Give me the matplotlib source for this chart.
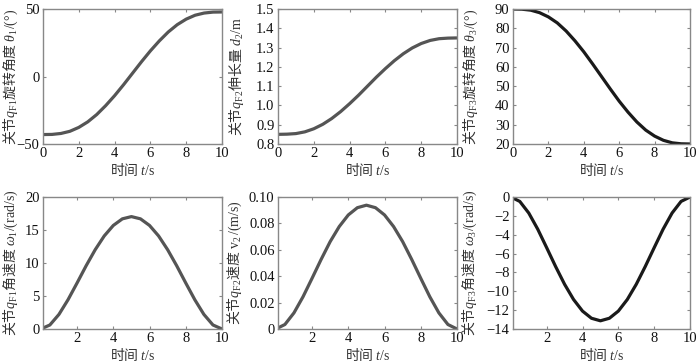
import matplotlib
matplotlib.use("Agg")
import matplotlib.pyplot as plt

plt.rcParams['font.family'] = ['Liberation Serif', 'Noto Sans CJK SC']
plt.rcParams['mathtext.fontset'] = 'custom'
plt.rcParams['mathtext.rm'] = 'Liberation Serif'
plt.rcParams['mathtext.it'] = 'Liberation Serif:italic'
plt.rcParams['mathtext.sf'] = 'Liberation Serif'
plt.rcParams['axes.unicode_minus'] = True

# time samples (s)
t = [0.0, 0.5, 1.0, 1.5, 2.0, 2.5, 3.0, 3.5, 4.0, 4.5, 5.0,
     5.5, 6.0, 6.5, 7.0, 7.5, 8.0, 8.5, 9.0, 9.5, 10.0]

# joint positions
theta1 = [-43.0, -42.9, -42.2, -40.6, -37.7, -33.6, -28.2, -21.6, -14.2, -6.1, 2.4,
          10.9, 19.0, 26.4, 33.0, 38.4, 42.5, 45.4, 47.0, 47.7, 47.8]
d2 = [0.850, 0.851, 0.854, 0.863, 0.879, 0.902, 0.932, 0.968, 1.009, 1.053, 1.100,
      1.147, 1.191, 1.232, 1.268, 1.298, 1.321, 1.337, 1.346, 1.349, 1.350]
theta3 = [90.0, 89.9, 89.4, 88.1, 85.9, 82.8, 78.6, 73.5, 67.8, 61.5, 55.0,
          48.5, 42.2, 36.5, 31.4, 27.2, 24.1, 21.9, 20.6, 20.1, 20.0]

# joint velocities
omega1 = [0.0, 0.61, 2.21, 4.43, 6.97, 9.58, 12.01, 14.10, 15.69, 16.69, 17.03,
          16.69, 15.69, 14.10, 12.01, 9.58, 6.97, 4.43, 2.21, 0.61, 0.0]
v2 = [0.0, 0.0034, 0.0122, 0.0244, 0.0384, 0.0527, 0.0662, 0.0776, 0.0864, 0.0919, 0.0938,
      0.0919, 0.0864, 0.0776, 0.0662, 0.0527, 0.0384, 0.0244, 0.0122, 0.0034, 0.0]
omega3 = [0.0, -0.47, -1.70, -3.41, -5.38, -7.38, -9.26, -10.87, -12.10, -12.86, -13.13,
          -12.86, -12.10, -10.87, -9.26, -7.38, -5.38, -3.41, -1.70, -0.47, 0.0]

ylabels = [
    r'关节$q_{\mathrm{F1}}$旋转角度 $\theta_1\mathrm{/(°)}$',
    r'关节$q_{\mathrm{F2}}$伸长量 $d_2\mathrm{/m}$',
    r'关节$q_{\mathrm{F3}}$旋转角度 $\theta_3\mathrm{/(°)}$',
    r'关节$q_{\mathrm{F1}}$角速度 $\omega_1\mathrm{/(rad/s)}$',
    r'关节$q_{\mathrm{F2}}$速度 $\mathrm{v}_2\mathrm{\,/(m/s)}$',
    r'关节$q_{\mathrm{F3}}$角速度 $\omega_3\mathrm{/(rad/s)}$',
]
xlabel = r'时间 $t\mathrm{/s}$'

fig = plt.figure(figsize=(7.0, 3.62), dpi=100)
W, H = 700.0, 362.0
cols = [(43, 222), (278, 457), (513, 690)]
rows = [(9, 144), (197, 329)]
ylabel_right = [20, 246, 480, 20, 244, 479]
xlabel_top = [161, 346]

series = [theta1, d2, theta3, omega1, v2, omega3]
colors = ['#555555', '#555555', '#1a1a1a', '#555555', '#555555', '#1a1a1a']
ylims = [(-50, 50), (0.8, 1.5), (20, 90), (0, 20), (0, 0.1), (-14, 0)]
yticks = [[-50, 0, 50],
          [0.8, 0.9, 1.0, 1.1, 1.2, 1.3, 1.4, 1.5],
          [20, 30, 40, 50, 60, 70, 80, 90],
          [0, 5, 10, 15, 20],
          [0, 0.02, 0.04, 0.06, 0.08, 0.10],
          [-14, -12, -10, -8, -6, -4, -2, 0]]
yticklabels = [None,
               ['0.8', '0.9', '1.0', '1.1', '1.2', '1.3', '1.4', '1.5'],
               None, None,
               ['0', '0.02', '0.04', '0.06', '0.08', '0.10'],
               None]

for i in range(6):
    r, c = divmod(i, 3)
    x0, x1 = cols[c]
    y0, y1 = rows[r]
    ax = fig.add_axes([x0 / W, 1 - y1 / H, (x1 - x0) / W, (y1 - y0) / H])
    ax.plot(t, series[i], color=colors[i], lw=2.3, solid_capstyle='butt')
    ax.set_ylim(*ylims[i])
    ax.set_yticks(yticks[i])
    if yticklabels[i] is not None:
        ax.set_yticklabels(yticklabels[i])
    if r == 0:
        ax.set_xlim(0, 10)
        ax.set_xticks([0, 2, 4, 6, 8, 10])
    else:
        ax.set_xlim(0.12, 10)
        ax.set_xticks([2, 4, 6, 8, 10])
    ax.tick_params(direction='in', top=True, right=True, length=2.5, width=0.8,
                   labelsize=10.5, colors='#111111', pad=2.5)
    ax.tick_params(axis='x', pad=2)
    ax.tick_params(color='#888888')
    for s in ax.spines.values():
        s.set_color('#888888')
        s.set_linewidth(1.0)
    ax.set_ylabel(ylabels[i], family='Noto Sans CJK SC', fontsize=10,
                  color='#333333')
    ax.yaxis.set_label_coords((ylabel_right[i] - x0) / (x1 - x0), 0.5)
    ax.set_xlabel(xlabel, family='Noto Sans CJK SC', fontsize=10,
                  color='#333333')
    ax.xaxis.set_label_coords(0.5, (y1 - xlabel_top[r]) / (y1 - y0))

fig.savefig('out.png', dpi=100)
